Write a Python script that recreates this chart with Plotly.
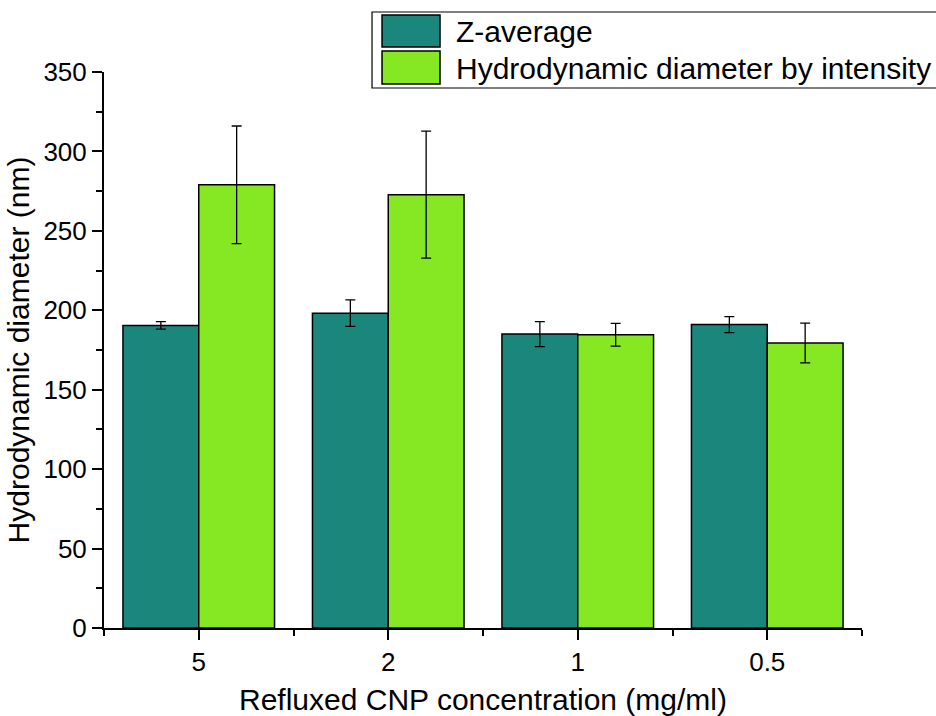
import plotly.graph_objects as go

categories = ["5", "2", "1", "0.5"]
series_names = ["Z-average", "Hydrodynamic diameter by intensity"]
z_average = [190.5, 198.2, 185.0, 191.0]
z_average_err = [2.3, 8.3, 7.9, 5.0]
intensity = [279.0, 272.8, 184.6, 179.4]
intensity_err = [37.0, 40.0, 7.2, 12.5]
colors = ["#1b867c", "#85e822"]

x = list(range(len(categories)))
FONT = "Liberation Sans, Arial, sans-serif"

fig = go.Figure()
for name, vals, errs, col in [(series_names[0], z_average, z_average_err, colors[0]),
                              (series_names[1], intensity, intensity_err, colors[1])]:
    fig.add_trace(go.Bar(
        x=x, y=vals, name=name,
        marker=dict(color=col, line=dict(color="black", width=1.5)),
        error_y=dict(type="data", array=errs, visible=True, color="black",
                     thickness=1.3, width=5),
        showlegend=False,
    ))

fig.update_layout(
    width=936, height=716,
    margin=dict(l=104, r=74, t=72, b=88),
    paper_bgcolor="white", plot_bgcolor="white",
    barmode="group", bargap=0.2, bargroupgap=0,
    font=dict(family=FONT, size=25, color="black"),
)
fig.update_xaxes(
    range=[-0.5, 3.5], tickvals=x, ticktext=categories, automargin=False,
    showline=True, linecolor="black", linewidth=2,
    ticks="outside", ticklen=10, tickwidth=2, tickcolor="black",
    minor=dict(tickvals=[-0.5, 0.5, 1.5, 2.5, 3.5], ticks="outside",
               ticklen=6, tickwidth=2, tickcolor="black"),
    showgrid=False, zeroline=False,
    tickfont=dict(size=26),
    title=dict(text="Refluxed CNP concentration (mg/ml)", font=dict(size=30), standoff=14),
)
fig.update_yaxes(
    range=[0, 350], dtick=50, automargin=False,
    showline=True, linecolor="black", linewidth=2,
    ticks="outside", ticklen=10, tickwidth=2, tickcolor="black",
    minor=dict(dtick=25, ticks="outside", ticklen=6, tickwidth=2, tickcolor="black"),
    showgrid=False, zeroline=False,
    tickfont=dict(size=26),
    title=dict(text="Hydrodynamic diameter (nm)", font=dict(size=30), standoff=5),
)

# custom legend (paper coordinates)
fig.add_shape(type="rect", xref="paper", yref="paper", x0=0.3536, x1=1.12,
              y0=0.9712, y1=1.1079, line=dict(color="black", width=1.2),
              fillcolor="white", layer="above")
sw_y = [(1.045, 1.1025), (0.9784, 1.0378)]
txt_y = [1.072, 1.007]
for i in range(2):
    fig.add_shape(type="rect", xref="paper", yref="paper", x0=0.3668, x1=0.4433,
                  y0=sw_y[i][0], y1=sw_y[i][1],
                  line=dict(color="black", width=1.5), fillcolor=colors[i], layer="above")
    fig.add_annotation(xref="paper", yref="paper", x=0.462, y=txt_y[i],
                       xanchor="left", yanchor="middle", showarrow=False,
                       text=series_names[i], font=dict(size=30, color="black"))

fig.write_html("out.html")
